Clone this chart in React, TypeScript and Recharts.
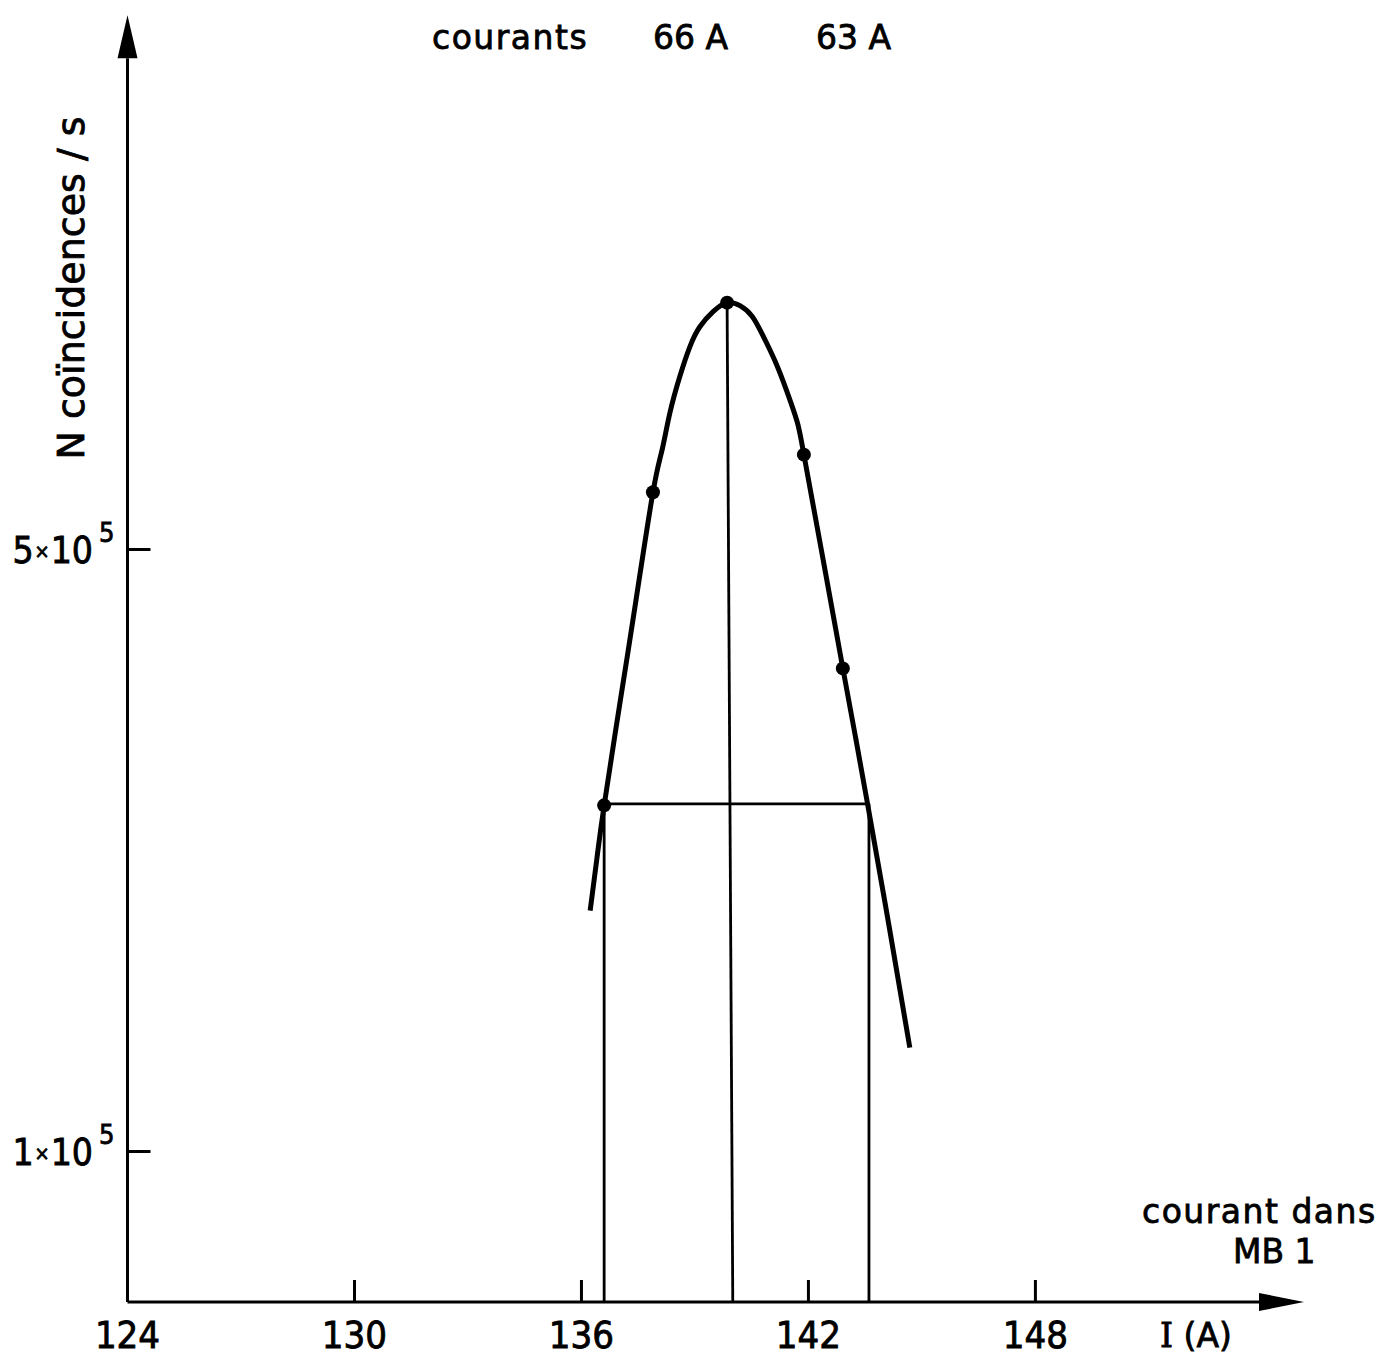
import { ComposedChart, Line, Scatter, XAxis, YAxis, ReferenceLine } from "recharts";

// curve traced along the hand-drawn fit (I in A, coincidences per s)
const curveI = [136.23, 136.41, 136.6, 137.03, 137.44, 137.89, 138.13, 138.34, 138.6, 138.87, 139.13, 139.48, 139.85, 140.19, 140.51, 140.8, 141.12, 141.43, 141.7, 141.88, 142.39, 142.91, 143.24, 143.57, 144.13, 144.68];
const curveN = [2.6e5, 2.95e5, 3.3e5, 4.0e5, 4.66e5, 5.38e5, 5.66e5, 5.91e5, 6.15e5, 6.35e5, 6.48e5, 6.58e5, 6.64e5, 6.62e5, 6.55e5, 6.42e5, 6.25e5, 6.05e5, 5.85e5, 5.63e5, 4.93e5, 4.21e5, 3.76e5, 3.3e5, 2.5e5, 1.69e5];

// measured points
const pointI = [136.6, 137.89, 139.85, 141.88, 142.91];
const pointN = [3.3e5, 5.38e5, 6.64e5, 5.63e5, 4.21e5];

// half-maximum construction
const halfMax = 3.31e5;
const halfLeft = 136.6;
const halfRight = 143.6;
const peakTop = { x: 139.85, y: 6.64e5 };
const peakFoot = 140.0;

const xTicks = [124, 130, 136, 142, 148];
const yTicks = [1e5, 5e5];
const yTickLabels: Record<number, string> = { 100000: "1", 500000: "5" };

const xDomain: [number, number] = [124, 155.1];
const yDomain: [number, number] = [0, 8.55e5];

const curve = curveI.map((x, i) => ({ x, y: curveN[i] }));
const points = pointI.map((x, i) => ({ x, y: pointN[i] }));

const INK = "#000";
const NARROW = "'Liberation Sans Narrow', 'DejaVu Sans Condensed', sans-serif";
const SANS = "'DejaVu Sans', sans-serif";

function arrow(len: number, half: number) {
  return (p: any) => {
    const { x1, y1, x2, y2 } = p;
    const dx = x2 - x1;
    const dy = y2 - y1;
    const d = Math.hypot(dx, dy) || 1;
    const ux = dx / d;
    const uy = dy / d;
    const bx = x2 - ux * len;
    const by = y2 - uy * len;
    const pts = `${x2},${y2} ${bx - uy * half},${by + ux * half} ${bx + uy * half},${by - ux * half}`;
    return (
      <g>
        <line x1={x1} y1={y1} x2={bx} y2={by} stroke={INK} strokeWidth={3} />
        <polygon points={pts} fill={INK} />
      </g>
    );
  };
}

const XTick = (props: any) => {
  const { x, y, payload } = props;
  return (
    <g>
      {payload.value !== 124 && <line x1={x} x2={x} y1={y} y2={y - 22} stroke={INK} strokeWidth={3} />}
      <text x={x} y={y + 46} textAnchor="middle" fontFamily={NARROW} fontSize={38} fill={INK} stroke={INK} strokeWidth={0.8}>
        {payload.value}
      </text>
    </g>
  );
};

const YTick = (props: any) => {
  const { x, y, payload } = props;
  return (
    <g>
      <line x1={x} x2={x + 23} y1={y} y2={y} stroke={INK} strokeWidth={3} />
      <text x={x - 13} y={y + 14} textAnchor="end" fontFamily={NARROW} fontSize={37} fill={INK} stroke={INK} strokeWidth={0.8}>
        {yTickLabels[payload.value]}
        <tspan fontSize={20} dx={1} dy={-5}>×</tspan>
        <tspan dx={1} dy={5}>10</tspan>
        <tspan fontSize={27} dx={6} dy={-21}>5</tspan>
      </text>
    </g>
  );
};

export default function App() {
  return (
    <div style={{ position: "absolute", left: 0, top: 0, width: 1381, height: 1357, background: "#fff" }}>
      <ComposedChart width={1381} height={1357} margin={{ top: 15.2, right: 77, bottom: 0, left: 0 }}>
        <XAxis
          type="number"
          dataKey="x"
          domain={xDomain}
          allowDataOverflow
          ticks={xTicks}
          interval={0}
          height={55}
          axisLine={false}
          tickLine={false}
          tickSize={0}
          tickMargin={0}
          tick={XTick}
        />
        <YAxis
          type="number"
          dataKey="y"
          domain={yDomain}
          allowDataOverflow
          ticks={yTicks}
          interval={0}
          width={127.5}
          axisLine={false}
          tickLine={false}
          tickSize={0}
          tickMargin={0}
          tick={YTick}
        />
        <ReferenceLine segment={[{ x: 124, y: 0 }, { x: xDomain[1], y: 0 }]} ifOverflow="visible" shape={arrow(45, 9)} />
        <ReferenceLine segment={[{ x: 124, y: 0 }, { x: 124, y: yDomain[1] }]} ifOverflow="visible" shape={arrow(43, 10)} />
        <ReferenceLine segment={[{ x: halfLeft, y: halfMax }, { x: halfLeft, y: 0 }]} stroke={INK} strokeWidth={2.8} ifOverflow="visible" />
        <ReferenceLine segment={[{ x: halfRight, y: halfMax }, { x: halfRight, y: 0 }]} stroke={INK} strokeWidth={2.8} ifOverflow="visible" />
        <ReferenceLine segment={[peakTop, { x: peakFoot, y: 0 }]} stroke={INK} strokeWidth={2.8} ifOverflow="visible" />
        <ReferenceLine segment={[{ x: halfLeft, y: halfMax }, { x: halfRight, y: halfMax }]} stroke={INK} strokeWidth={2.6} ifOverflow="visible" />
        <Line
          data={curve}
          dataKey="y"
          type="natural"
          stroke={INK}
          strokeWidth={5}
          strokeLinejoin="round"
          dot={false}
          activeDot={false}
          isAnimationActive={false}
        />
        <Scatter
          data={points}
          dataKey="y"
          fill={INK}
          shape={(p: any) => <circle cx={p.cx} cy={p.cy} r={7} fill={INK} />}
          isAnimationActive={false}
        />
      </ComposedChart>
      <svg width={1381} height={1357} style={{ position: "absolute", left: 0, top: 0, pointerEvents: "none" }}>
        <g fontFamily={SANS} fontSize={33} fill={INK} stroke={INK} strokeWidth={0.8}>
          <text x={432} y={49} letterSpacing={1.5}>courants</text>
          <text x={653} y={49}>66 A</text>
          <text x={816} y={49}>63 A</text>
          <text x={1142} y={1223} letterSpacing={1.5}>courant dans</text>
          <text x={1233} y={1263}>MB 1</text>
          <text x={1160} y={1347}>
            <tspan fontFamily="'DejaVu Serif', serif">I</tspan> (A)
          </text>
          <text transform="translate(84,288) rotate(-90)" textAnchor="middle" fontSize={38}>
            N coïncidences / s
          </text>
        </g>
      </svg>
    </div>
  );
}
